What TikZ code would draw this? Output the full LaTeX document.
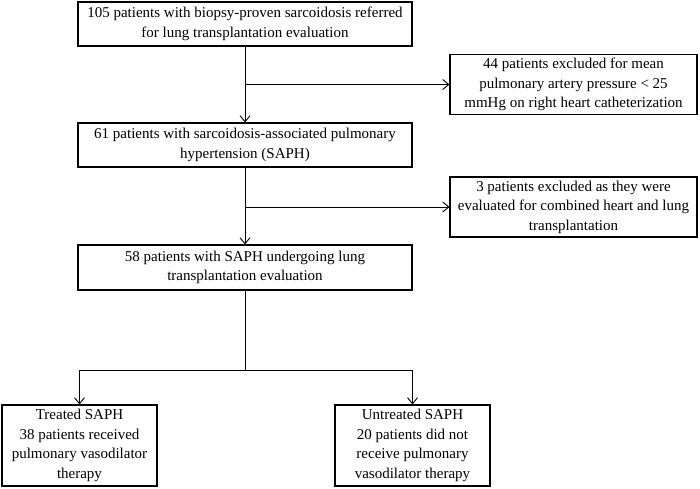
\documentclass[tikz,border=0pt]{standalone}
\usepackage{fontspec}
\setmainfont{Liberation Serif}
\usetikzlibrary{arrows.meta}
\tikzset{
  box/.style={draw=black, line width=1.2pt, align=center, inner sep=2pt,
    font=\fontsize{15}{19.5}\selectfont},
  conn/.style={line width=0.9pt, draw=black},
  arr/.style={conn, -{Straight Barb[length=6pt,width=10pt]}}
}
\begin{document}
\begin{tikzpicture}[x=1pt,y=-1pt]
\useasboundingbox (0,0) rectangle (700,488);
\node[box, minimum width=334pt, minimum height=44pt] (b1) at (245,24)
  {105 patients with biopsy-proven sarcoidosis referred\\for lung transplantation evaluation};
\node[box, minimum width=247pt, minimum height=60pt] (r1) at (573.5,84.5)
  {44 patients excluded for mean\\pulmonary artery pressure < 25\\mmHg on right heart catheterization};
\node[box, minimum width=334pt, minimum height=44pt] (b2) at (245,145)
  {61 patients with sarcoidosis-associated pulmonary\\hypertension (SAPH)};
\node[box, minimum width=247pt, minimum height=60pt] (r2) at (573.5,207)
  {3 patients excluded as they were\\evaluated for combined heart and lung\\transplantation};
\node[box, minimum width=334pt, minimum height=45pt] (b3) at (245,267.5)
  {58 patients with SAPH undergoing lung\\transplantation evaluation};
\node[box, minimum width=155pt, minimum height=81pt] (bl) at (79.5,445.5)
  {Treated SAPH\\38 patients received\\pulmonary vasodilator\\therapy};
\node[box, minimum width=155pt, minimum height=81pt] (br) at (412.5,445.5)
  {Untreated SAPH\\20 patients did not\\receive pulmonary\\vasodilator therapy};
\coordinate (j1) at (245,84.5);
\coordinate (j2) at (245,207);
\coordinate (j3) at (245,370);
\draw[arr] (b1.south) -- (b2.north);
\draw[arr] (j1) -- (r1.west);
\draw[arr] (b2.south) -- (b3.north);
\draw[arr] (j2) -- (r2.west);
\draw[conn] (b3.south) -- (j3);
\draw[arr] (j3) -| (bl.north);
\draw[arr] (j3) -| (br.north);
\end{tikzpicture}
\end{document}
